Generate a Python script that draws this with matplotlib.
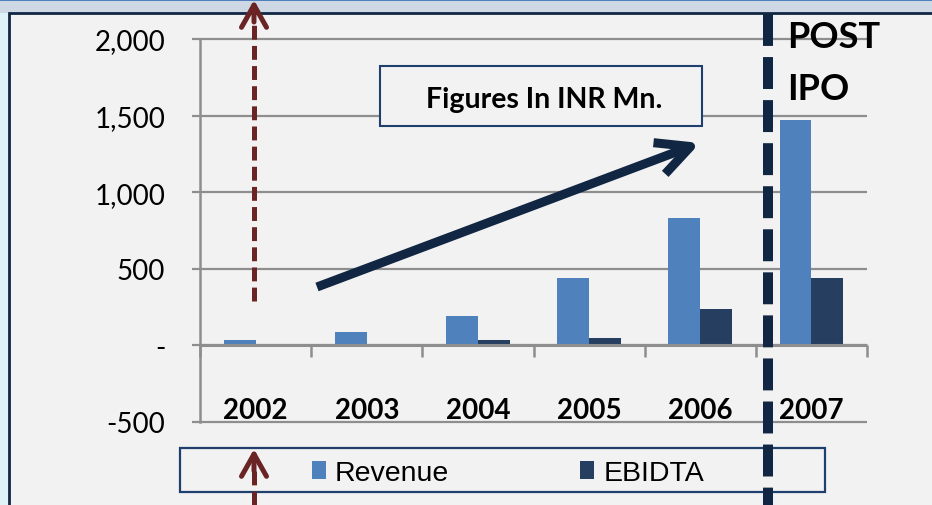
import numpy as np
import matplotlib
matplotlib.use("Agg")
import matplotlib.pyplot as plt
from matplotlib.patches import Rectangle, Patch
from matplotlib.lines import Line2D

plt.rcParams['lines.scale_dashes'] = False

# ---------------- data ----------------
years = ['2002', '2003', '2004', '2005', '2006', '2007']
revenue = [35, 88, 190, 440, 830, 1470]
ebidta = [-4, -4, 35, 50, 237, 442]
yticks = [-500, 0, 500, 1000, 1500, 2000]
ytick_labels = ['-500', '-', '500', '1,000', '1,500', '2,000']
series_names = ['Revenue', 'EBIDTA']
note_text = 'Figures In INR Mn.'
post_ipo = ['POST', 'IPO']

# ---------------- style ----------------
W, H = 932, 506
C_REV = '#4f81bd'
C_EB = '#263f60'
C_GRID = '#8e8e8e'
C_NAVY = '#112643'
C_BOX = '#1f3f6e'
C_BROWN = '#6b2424'
BG = '#f2f2f2'
FONT = 'Lato'


def fx(x):
    return x / W


def fy(y):
    return 1 - y / H


fig = plt.figure(figsize=(W / 100, H / 100), dpi=100)
fig.patch.set_facecolor('#dff2f6')

# slide background strips
fig.add_artist(Rectangle((0, fy(14)), 1, 14 / H, transform=fig.transFigure,
                         facecolor='#cdd8e4', edgecolor='none', zorder=-5))
fig.add_artist(Rectangle((0, fy(2)), 1, 2 / H, transform=fig.transFigure,
                         facecolor='#4f7fbf', edgecolor='none', zorder=-4))
# chart panel
fig.add_artist(Rectangle((fx(9), -0.05), 1.0, fy(14) + 0.05, transform=fig.transFigure,
                         facecolor=BG, edgecolor=C_NAVY, linewidth=2, zorder=-3))

# ---------------- axes ----------------
ax = fig.add_axes([fx(200), fy(423), (867 - 200) / W, (423 - 40) / H])
ax.set_facecolor('none')
n = len(years)
x = np.arange(n)
ax.set_xlim(-0.5, n - 0.5)
ax.set_ylim(yticks[0], yticks[-1])

w = 1 / 3.5
ax.bar(x - w / 2, revenue, w, color=C_REV, zorder=3, label=series_names[0])
ax.bar(x + w / 2, ebidta, w, color=C_EB, zorder=3, label=series_names[1])

# horizontal gridlines
ax.hlines(yticks, -0.5, n - 0.5, colors=C_GRID, linewidth=1.6, zorder=1, clip_on=False)
ax.hlines([0], -0.5, n - 0.5, colors=C_GRID, linewidth=2.2, zorder=4, clip_on=False)
# category tick marks on zero line
ax.vlines(np.arange(n + 1) - 0.5, -75, 0, colors=C_GRID, linewidth=1.8, zorder=4, clip_on=False)

for s in ['top', 'right', 'bottom']:
    ax.spines[s].set_visible(False)
ax.spines['left'].set_color(C_GRID)
ax.spines['left'].set_linewidth(1.8)

ax.set_yticks(yticks, ytick_labels)
ax.tick_params(axis='y', length=6, width=1.6, color=C_GRID, pad=19, labelsize=20)
for t in ax.get_yticklabels():
    t.set_fontfamily(FONT)

ax.set_xticks(x, years)
ax.tick_params(axis='x', length=0, pad=-18, labelsize=20)
for t in ax.get_xticklabels():
    t.set_fontfamily(FONT)
    t.set_fontweight('bold')

# ---------------- annotations ----------------
# note box
fig.add_artist(Rectangle((fx(380), fy(127)), (702 - 380) / W, (127 - 67) / H,
                         transform=fig.transFigure, facecolor=BG, edgecolor=C_BOX,
                         linewidth=1.5, zorder=5))
fig.text(fx(544), fy(100), note_text, ha='center', va='center', fontsize=20.5,
         fontweight='bold', family=FONT, zorder=6)

# growth arrow
ax.annotate('', xy=(700, H - 144), xycoords='figure pixels',
            xytext=(317, H - 288), textcoords='figure pixels',
            arrowprops=dict(arrowstyle='->,head_length=1.2,head_width=0.6',
                            lw=6.5, color=C_NAVY, mutation_scale=20,
                            shrinkA=0, shrinkB=0, capstyle='butt', joinstyle='round'),
            zorder=7)

# brown dashed arrows (shaft + head)
def brown_arrow(x0, y_tail, y_head, y_shaft_end):
    fig.add_artist(Line2D([fx(x0), fx(x0)], [fy(y_tail), fy(y_shaft_end)],
                          transform=fig.transFigure, color=C_BROWN, lw=3.6,
                          linestyle=(0, (10, 4.5)), solid_capstyle='butt',
                          dash_capstyle='butt', zorder=8))
    ax.annotate('', xy=(x0, H - y_head), xycoords='figure pixels',
                xytext=(x0, H - y_head - 22), textcoords='figure pixels',
                arrowprops=dict(arrowstyle='->,head_length=0.8,head_width=0.45',
                                lw=3.6, color=C_BROWN, mutation_scale=20,
                                shrinkA=0, shrinkB=0),
                zorder=8)

brown_arrow(254, 302, 1, 22)
brown_arrow(254, 506, 450, 470)

# post-IPO dashed divider
fig.add_artist(Line2D([fx(768), fx(768)], [fy(15), fy(506)], transform=fig.transFigure,
                      color=C_NAVY, lw=7.2, linestyle=(0, (23, 8)),
                      dash_capstyle='butt', zorder=9))
fig.text(fx(787), fy(48), post_ipo[0], ha='left', va='baseline', fontsize=26,
         fontweight='bold', family=FONT, zorder=10)
fig.text(fx(787), fy(100), post_ipo[1], ha='left', va='baseline', fontsize=26,
         fontweight='bold', family=FONT, zorder=10)

# legend
fig.add_artist(Rectangle((fx(180), fy(493)), (825 - 180) / W, (493 - 449) / H,
                         transform=fig.transFigure, facecolor='none', edgecolor=C_BOX,
                         linewidth=1.6, zorder=5))
handles = [Patch(facecolor=C_REV, edgecolor='none'), Patch(facecolor=C_EB, edgecolor='none')]
leg = fig.legend(handles, series_names, loc='center', bbox_to_anchor=(fx(508), fy(474)),
                 ncol=2, frameon=False, prop={'family': 'Liberation Sans', 'size': 20.5},
                 handlelength=0.5, handleheight=0.58, handletextpad=0.32,
                 columnspacing=4.6, borderpad=0, borderaxespad=0)
leg.set_zorder(6)

fig.savefig('out.png', dpi=100, facecolor=fig.get_facecolor())
